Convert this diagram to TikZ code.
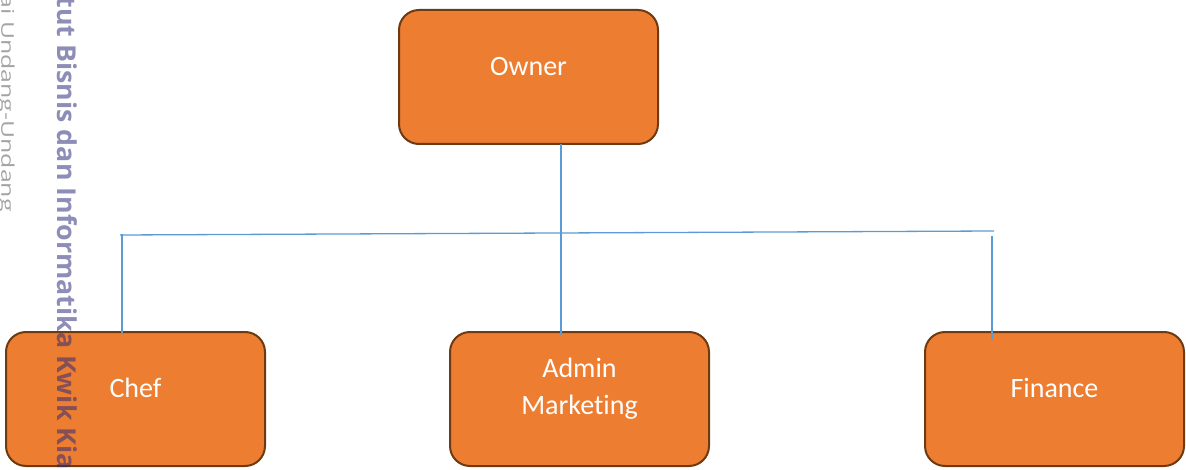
\documentclass[tikz,border=0pt]{standalone}
\usepackage{fontspec}
\setmainfont{Carlito}[Ligatures=NoCommon]
\newfontfamily\wmfont{Open Sans}[Ligatures=NoCommon]
\usetikzlibrary{calc}
\definecolor{boxfill}{HTML}{ED7D31}
\definecolor{boxedge}{HTML}{6E3A12}
\definecolor{linkblue}{HTML}{5B9BD5}
\definecolor{wmstrong}{RGB}{40,40,120}
\definecolor{wmlight}{HTML}{A4A4A4}
\tikzset{
  orgbox/.style={draw=boxedge, fill=boxfill, line width=2pt, rounded corners=20pt,
    minimum width=259pt, minimum height=134pt, inner sep=0pt},
  orgtext/.style={text=white, font=\fontsize{28}{37}\selectfont, align=center, inner sep=0pt},
  link/.style={draw=linkblue, line width=1.3pt},
  wmbold/.style={rotate=-90, anchor=base east, inner sep=0pt, text=wmstrong, opacity=0.53,
    font=\wmfont\bfseries\fontsize{26}{30}\selectfont},
  wmthin/.style={rotate=-90, anchor=base east, inner sep=0pt, text=wmlight,
    font=\wmfont\fontsize{17.5}{20}\selectfont}
}
\begin{document}
\begin{tikzpicture}[x=1pt, y=-1pt]
\useasboundingbox (0,0) rectangle (1186,470);
\clip (0,0) rectangle (1186,470);

% boxes of the chart
\node[orgbox] (owner) at (528.5,77) {};
\node[orgbox] (chef) at (135.5,399) {};
\node[orgbox] (admin) at (579.5,399) {};
\node[orgbox] (finance) at (1054.5,399) {};

% labels, set a little above each box centre
\node[orgtext] (ownerT) at ($(owner.center)+(0,-10)$) {Owner};
\node[orgtext] (chefT) at ($(chef.center)+(0,-11)$) {Chef};
\node[orgtext] (adminT) at ($(admin.center)+(0,-10)$) {Admin\\Marketing};
\node[orgtext] (financeT) at ($(finance.center)+(0,-11)$) {Finance};

% connector lines
\coordinate (barL) at (120,235);
\coordinate (barR) at (994,231);
\draw[link] (barL) -- (barR);
\draw[link] ($(owner.south)+(32.5,-1)$) -- ($(admin.north)+(-18.5,4)$);
\draw[link] ($(chef.north -| barL)+(2,2)$) -- ($(barL)+(2,-1)$);
\draw[link] ($(barR)+(-2,5)$) -- ($(finance.north -| barR)+(-2,8)$);

% side watermark, stretched along its baseline
\node[wmbold] (wmA) at (57,470) {\scalebox{1.03}[1]{tut Bisnis dan Informatika Kwik Kia}};
\node[wmthin] (wmB) at (1.5,212) {\scalebox{1.42}[1]{ai Undang-Undang}};
\end{tikzpicture}
\end{document}
